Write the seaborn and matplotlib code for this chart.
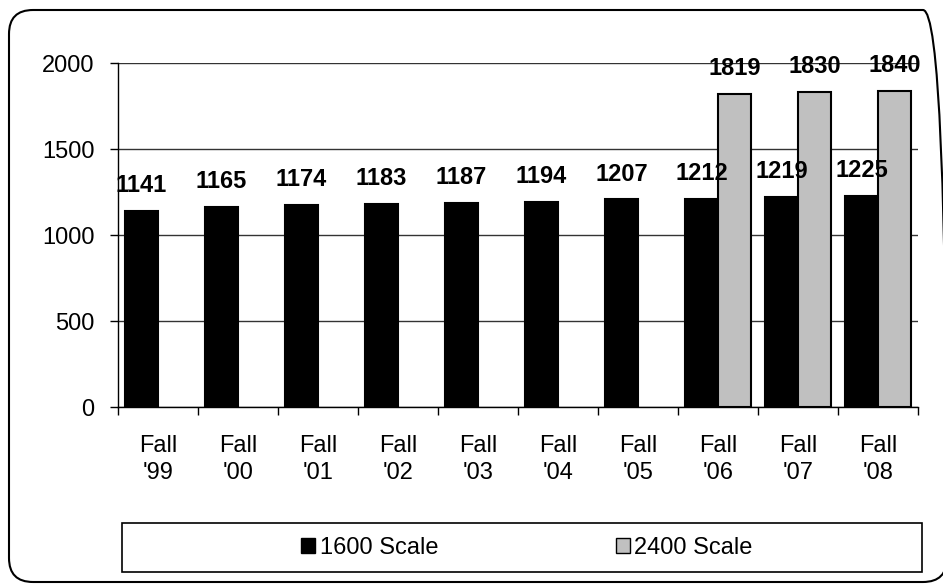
import pandas as pd
import seaborn as sns
import matplotlib.pyplot as plt
from matplotlib.patches import FancyBboxPatch, Rectangle
from matplotlib.transforms import IdentityTransform
from matplotlib.ticker import FixedLocator

# data
terms = ["Fall\n'99", "Fall\n'00", "Fall\n'01", "Fall\n'02", "Fall\n'03",
         "Fall\n'04", "Fall\n'05", "Fall\n'06", "Fall\n'07", "Fall\n'08"]
scale_1600 = [1141, 1165, 1174, 1183, 1187, 1194, 1207, 1212, 1219, 1225]
terms_2400 = ["Fall\n'06", "Fall\n'07", "Fall\n'08"]
scale_2400 = [1819, 1830, 1840]
series = ["1600 Scale", "2400 Scale"]

df = pd.concat([
    pd.DataFrame({'term': terms, 'score': scale_1600, 'scale': series[0]}),
    pd.DataFrame({'term': terms_2400, 'score': scale_2400, 'scale': series[1]}),
])

sns.set_style('white')
plt.rcParams['font.family'] = ['Liberation Sans', 'DejaVu Sans']
plt.rcParams['text.color'] = 'black'
plt.rcParams['xtick.color'] = 'black'
plt.rcParams['ytick.color'] = 'black'
plt.rcParams['xtick.labelcolor'] = 'black'
plt.rcParams['ytick.labelcolor'] = 'black'

W, H = 943, 584
fig = plt.figure(figsize=(W / 100, H / 100), dpi=100)
ax = fig.add_axes([118 / W, 1 - 407 / H, 800 / W, 344 / H])

sns.barplot(data=df, x='term', y='score', hue='scale', order=terms,
            hue_order=series, palette=['black', '#C0C0C0'], edgecolor='black',
            linewidth=1.5, width=0.82, dodge=True, ax=ax, legend=False)

for c in ax.containers:
    ax.bar_label(c, fmt='%d', padding=10, fontsize=17, fontweight='bold',
                 color='black')

ax.set_ylim(0, 2000)
ax.set_xlim(-0.5, len(terms) - 0.5)
ax.set_yticks([0, 500, 1000, 1500, 2000])
ax.set_xlabel('')
ax.set_ylabel('')
ax.grid(axis='y', color='#333333', linewidth=1)
ax.set_axisbelow(True)
for s in ['top', 'right']:
    ax.spines[s].set_visible(False)
for s in ['left', 'bottom']:
    ax.spines[s].set_color('black')
    ax.spines[s].set_linewidth(1)

ax.tick_params(axis='y', left=True, direction='out', length=6, width=1,
               color='black', labelsize=17, pad=11)
ax.tick_params(axis='x', which='major', length=0, labelsize=17, pad=20)
ax.xaxis.set_minor_locator(FixedLocator([i - 0.5 for i in range(len(terms) + 1)]))
ax.tick_params(axis='x', which='minor', bottom=True, direction='out',
               length=6, width=1, color='black')
for t in ax.get_xticklabels():
    t.set_linespacing(1.3)

# legend box along the bottom
fig.add_artist(Rectangle((122, H - 572), 800, 49, transform=IdentityTransform(),
                         facecolor='white', edgecolor='black', linewidth=1.2))
handles = [Rectangle((0, 0), 1, 1, facecolor='black', edgecolor='black'),
           Rectangle((0, 0), 1, 1, facecolor='#C0C0C0', edgecolor='black')]
fig.legend(handles, series, loc='center', bbox_to_anchor=(527 / W, 1 - 548 / H),
           ncol=2, frameon=False, fontsize=17, handlelength=0.6,
           handleheight=0.6, handletextpad=0.2, columnspacing=7.5)

# rounded outer border; only the top-left part of the right corner is in view
fig.add_artist(FancyBboxPatch((9, 2), 938, H - 12,
                              boxstyle='round,pad=0,rounding_size=24',
                              transform=IdentityTransform(), facecolor='none',
                              edgecolor='black', linewidth=1.5, clip_on=False))
fig.add_artist(Rectangle((942.6, 30), 10, H - 60, transform=IdentityTransform(),
                         facecolor='white', edgecolor='none'))

fig.savefig('out.png', dpi=100)
